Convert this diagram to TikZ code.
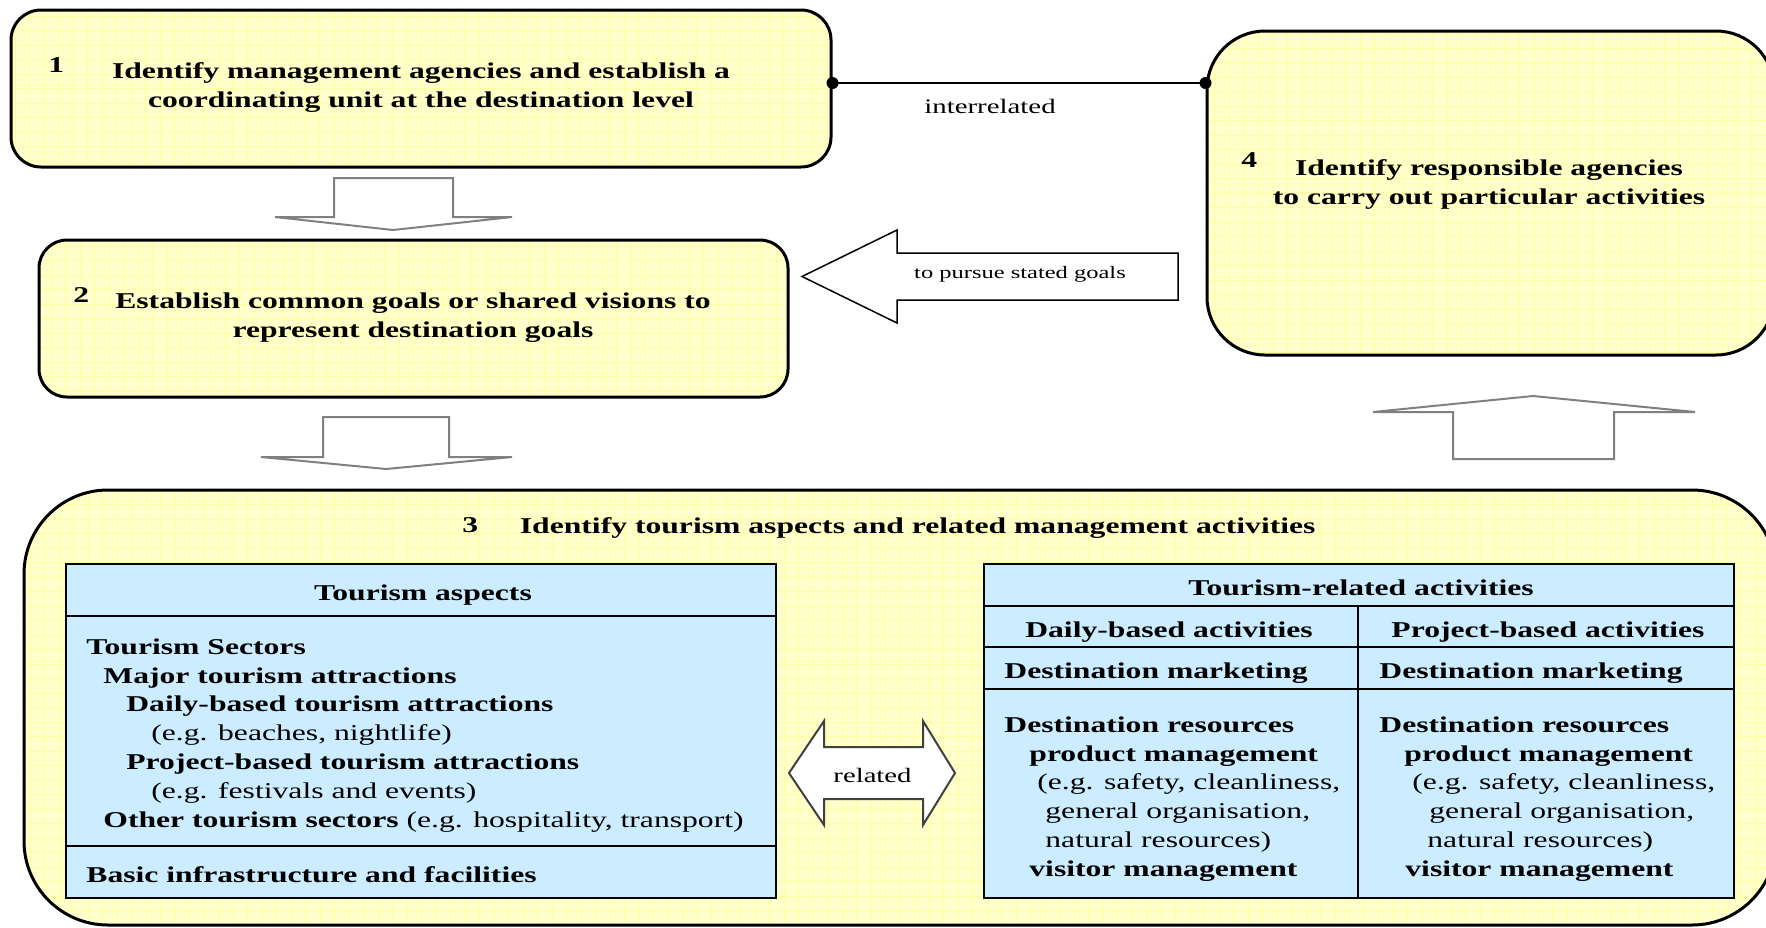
\documentclass[tikz,border=0pt]{standalone}
\usepackage{fontspec}
\setmainfont{Liberation Serif}[FakeStretch=1.4]
\usetikzlibrary{calc}

\definecolor{ylw}{HTML}{FFFFCC}
\definecolor{ygrid}{HTML}{FFFF9E}
\definecolor{lblue}{HTML}{CCECFF}
\definecolor{arrgray}{HTML}{808080}
\definecolor{darkline}{HTML}{404040}

\newcommand\bodyfs{\fontsize{11.3}{14.4}\selectfont}

\tikzset{
  ybox/.style={draw=black, line width=1.5pt, fill=ylw, inner sep=0pt,
    path picture={\draw[ygrid, line width=0.5pt, step=7.25pt]
      (path picture bounding box.south west) grid (path picture bounding box.north east);}},
  cell/.style={draw=black, line width=1pt, fill=lblue, inner sep=0pt},
  blockarrow/.style={draw=arrgray, line width=1pt, fill=white, line join=miter},
  txt/.style={inner sep=0pt, font=\bodyfs},
  btxt/.style={inner sep=0pt, font=\bodyfs\bfseries},
  dot/.style={circle, fill=black, inner sep=0pt, minimum size=6pt},
}

\begin{document}
\begin{tikzpicture}[x=0.5pt, y=-0.5pt]
\useasboundingbox (0,0) rectangle (1766,927);

% ---- step 3: large container with the two tables
\node[ybox, rounded corners=42pt, minimum width=876pt, minimum height=217.5pt] (box3) at (900,707.5) {};
\node[btxt, anchor=base west] (n3) at (462,532) {3};
\node[btxt, anchor=base west] (t3) at (519.5,533) {Identify tourism aspects and related management activities};

% left table: tourism aspects
\node[cell, minimum width=355pt, minimum height=26pt] (tAh) at (421,590) {};
\node[cell, minimum width=355pt, minimum height=115pt] (tAb) at (421,731) {};
\node[cell, minimum width=355pt, minimum height=26pt] (tAf) at (421,872) {};
\node[btxt, anchor=base] (tAhT) at (423,600) {Tourism aspects};
\node[txt, anchor=north west, align=left] (tAbT) at (86,633.8) {\strut\textbf{Tourism Sectors}\\
\hspace*{8.5pt}\textbf{Major tourism attractions}\\
\hspace*{20pt}\textbf{Daily-based tourism attractions}\\
\hspace*{32.5pt}(e.g. beaches, nightlife)\\
\hspace*{20pt}\textbf{Project-based tourism attractions}\\
\hspace*{32.5pt}(e.g. festivals and events)\\
\hspace*{8.5pt}\textbf{Other tourism sectors} (e.g. hospitality, transport)};
\node[btxt, anchor=base west] (tAfT) at (86,882) {Basic infrastructure and facilities};

% right table: tourism-related activities
\node[cell, minimum width=375pt, minimum height=21pt] (tBh) at (1359,585) {};
\node[cell, minimum width=187pt, minimum height=20.5pt] (tBd1) at (1171,626.5) {};
\node[cell, minimum width=188pt, minimum height=20.5pt] (tBp1) at (1546,626.5) {};
\node[cell, minimum width=187pt, minimum height=21pt] (tBd2) at (1171,668) {};
\node[cell, minimum width=188pt, minimum height=21pt] (tBp2) at (1546,668) {};
\node[cell, minimum width=187pt, minimum height=104.5pt] (tBd3) at (1171,793.5) {};
\node[cell, minimum width=188pt, minimum height=104.5pt] (tBp3) at (1546,793.5) {};
\node[btxt, anchor=base] (tBhT) at (1361,595) {Tourism-related activities};
\node[btxt, anchor=base] (tBd1T) at (1169,637) {Daily-based activities};
\node[btxt, anchor=base] (tBp1T) at (1548,637) {Project-based activities};
\node[btxt, anchor=base west] (tBd2T) at (1004,678) {Destination marketing};
\node[btxt, anchor=base west] (tBp2T) at (1379,678) {Destination marketing};
\node[txt, anchor=north west, align=left] (tBd3T) at (1004,711.8) {\strut\textbf{Destination resources}\\
\hspace*{12.5pt}\textbf{product management}\\
\hspace*{16.5pt}(e.g. safety, cleanliness,\\
\hspace*{20.5pt}general organisation,\\
\hspace*{20.5pt}natural resources)\\
\hspace*{12.5pt}\textbf{visitor management}};
\node[txt, anchor=north west, align=left] (tBp3T) at (1379,711.8) {\strut\textbf{Destination resources}\\
\hspace*{12.5pt}\textbf{product management}\\
\hspace*{16.5pt}(e.g. safety, cleanliness,\\
\hspace*{25pt}general organisation,\\
\hspace*{24pt}natural resources)\\
\hspace*{13pt}\textbf{visitor management}};

% double arrow between the tables
\draw[draw=darkline, line width=1pt, fill=white, line join=miter]
  (789,773) -- (824,721) -- (824,747) -- (923,747) -- (923,721) -- (955,773)
  -- (923,825) -- (923,799) -- (824,799) -- (824,825) -- cycle;
\node[txt, font=\fontsize{10.25}{12}\selectfont, anchor=base] (rel) at (872.5,782) {related};

% ---- step 1
\node[ybox, rounded corners=15pt, minimum width=410pt, minimum height=78.5pt] (box1) at (421,88.5) {};
\node[btxt, anchor=base west] (n1) at (48,72) {1};
\node[btxt, anchor=north, align=center] (t1) at (421,57.8) {\strut Identify management agencies and establish a\\coordinating unit at the destination level};

% ---- step 2
\node[ybox, rounded corners=14pt, minimum width=374.5pt, minimum height=78.5pt] (box2) at (413.5,318.5) {};
\node[btxt, anchor=base west] (n2) at (73,302) {2};
\node[btxt, anchor=north, align=center] (t2) at (413,287.8) {\strut Establish common goals or shared visions to\\represent destination goals};

% ---- step 4
\node[ybox, rounded corners=29pt, minimum width=283.5pt, minimum height=162pt] (box4) at (1490.5,193) {};
\node[btxt, anchor=base west] (n4) at (1241,167) {4};
\node[btxt, anchor=north, align=center] (t4) at (1489,154.8) {\strut Identify responsible agencies\\to carry out particular activities};

% interrelated link between steps 1 and 4
\coordinate (la) at ([yshift=2.75pt]box1.east);
\coordinate (lb) at (la -| box4.west);
\draw[line width=1.2pt] (la) -- (lb);
\node[dot] (da) at (la) {};
\node[dot] (db) at (lb) {};
\node[txt, font=\fontsize{10.3}{12}\selectfont, anchor=base] (inter) at (990,113) {interrelated};

% block arrow from step 4 back to step 2
\draw[draw=black, line width=0.75pt, fill=white, line join=miter]
  (1178,253) -- (897,253) -- (897,230) -- (802,276.5) -- (897,323) -- (897,300) -- (1178,300) -- cycle;
\node[txt, font=\fontsize{8.75}{10}\selectfont, anchor=base] (pursue) at (1020,278) {to pursue stated goals};

% flow arrows: 1 -> 2, 2 -> 3, 3 -> 4
\draw[blockarrow] (334,178) -- (453,178) -- (453,217) -- (512,217) -- (393,230)
  -- (275,217) -- (334,217) -- cycle;
\draw[blockarrow] (323,417) -- (449,417) -- (449,457) -- (512,457) -- (386,469)
  -- (261,457) -- (323,457) -- cycle;
\draw[blockarrow] (1453,459) -- (1614,459) -- (1614,412) -- (1695,412) -- (1533,396)
  -- (1373,412) -- (1453,412) -- cycle;
\end{tikzpicture}
\end{document}
